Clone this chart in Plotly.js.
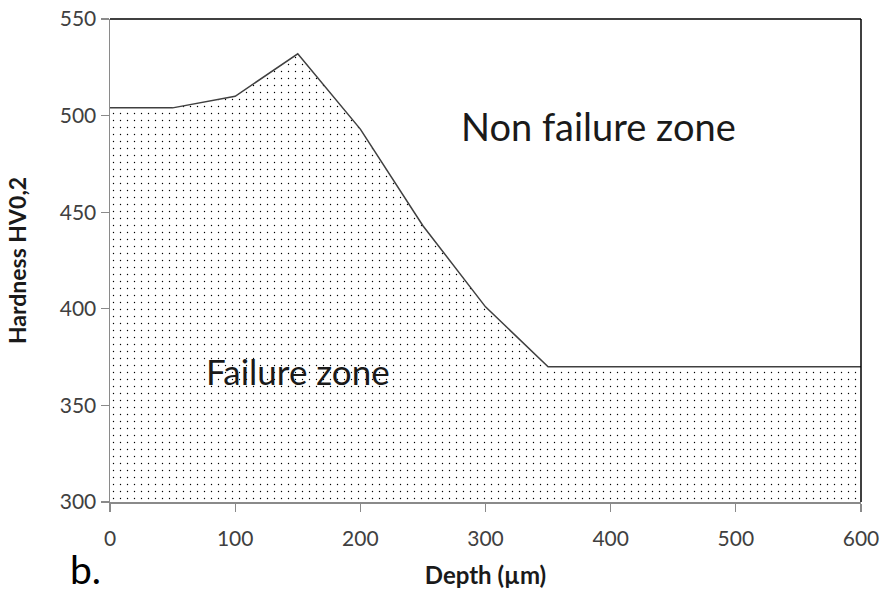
<!DOCTYPE html>
<html>
<head>
<meta charset="utf-8">
<script src="https://cdn.plot.ly/plotly-3.0.1.min.js"></script>
<style>html,body{margin:0;padding:0;background:#fff;}#chart{width:887px;height:596px;}</style>
</head>
<body>
<div id="chart"></div>
<script>
const depth = [0, 50, 100, 150, 200, 250, 300, 350, 600];
const hardness = [504, 504, 510, 532, 493, 443, 401, 370, 370];
const xTicks = [0, 100, 200, 300, 400, 500, 600];
const yTicks = [300, 350, 400, 450, 500, 550];
const zoneLabels = ["Non failure zone", "Failure zone"];
const panelLabel = "b.";

const FONT = "Lato, 'Open Sans', sans-serif";

const trace = {
  x: depth,
  y: hardness,
  type: 'scatter',
  mode: 'lines',
  fill: 'tozeroy',
  fillcolor: 'white',
  fillpattern: {shape: '.', size: 7, solidity: 0.03, fgcolor: '#000', bgcolor: '#fff'},
  line: {color: '#404040', width: 1.5},
  hoverinfo: 'skip',
  showlegend: false
};

const W = 887, H = 596, ML = 110, MR = 26, MT = 19, MB = 94;
const pw = W - ML - MR, ph = H - MT - MB;

const layout = {
  width: W, height: H,
  margin: {l: ML, r: MR, t: MT, b: MB},
  paper_bgcolor: '#fff', plot_bgcolor: '#fff',
  font: {family: FONT, color: '#404040'},
  xaxis: {
    range: [0, 600], tickvals: xTicks, ticktext: xTicks.map(String),
    showgrid: false, zeroline: false, showline: true, linecolor: '#8a8a8a', linewidth: 1.5,
    ticks: 'outside', ticklen: 8, tickcolor: '#8a8a8a', tickwidth: 1.2,
    ticklabelstandoff: 9,
    tickfont: {size: 21, color: '#404040', family: FONT},
    title: {text: '<b>Depth (µm)</b>', font: {size: 24, color: '#1a1a1a', family: FONT}, standoff: 18}
  },
  yaxis: {
    range: [300, 550], tickvals: yTicks, ticktext: yTicks.map(String),
    showgrid: false, zeroline: false, showline: true, linecolor: '#8a8a8a', linewidth: 1.5,
    ticks: 'outside', ticklen: 8, tickcolor: '#8a8a8a', tickwidth: 1.2,
    tickfont: {size: 21, color: '#404040', family: FONT},
    title: {text: '<b>Hardness HV0,2</b>', font: {size: 23, color: '#1a1a1a', family: FONT}, standoff: 26}
  },
  shapes: [
    {type: 'line', xref: 'paper', yref: 'paper', x0: 0, x1: 1, y0: 1, y1: 1, line: {color: '#000', width: 1.5}},
    {type: 'line', xref: 'paper', yref: 'paper', x0: 1, x1: 1, y0: 0, y1: 1, line: {color: '#000', width: 1.5}}
  ],
  annotations: [
    {x: 390, y: 494.5, xref: 'x', yref: 'y', text: zoneLabels[0], showarrow: false,
     font: {size: 38, color: '#1a1a1a', family: FONT}},
    {x: 150, y: 368, xref: 'x', yref: 'y', text: zoneLabels[1], showarrow: false,
     font: {size: 35, color: '#1a1a1a', family: FONT}},
    {x: (85 - ML) / pw, y: (H - MB - 569) / ph, xref: 'paper', yref: 'paper', text: panelLabel, showarrow: false,
     xanchor: 'center', yanchor: 'middle',
     font: {size: 39, color: '#000', family: FONT}}
  ]
};

Plotly.newPlot('chart', [trace], layout, {displayModeBar: false, staticPlot: true});
</script>
</body>
</html>
